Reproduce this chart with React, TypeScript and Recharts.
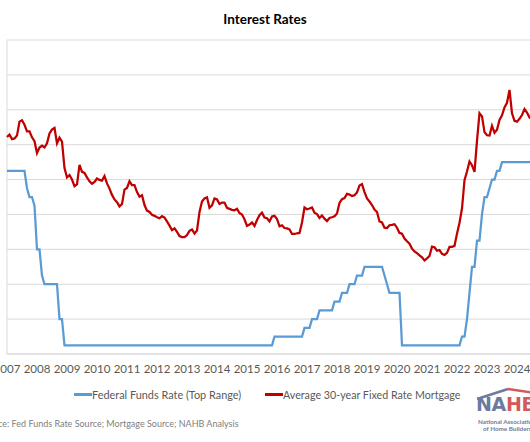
import React from "react";
import { LineChart, Line, XAxis, YAxis, CartesianGrid, ReferenceLine } from "recharts";

// monthly series, Jan 2007 onward
const START_YEAR = 2007;

const yearTicks = [2007, 2008, 2009, 2010, 2011, 2012, 2013, 2014, 2015, 2016, 2017, 2018, 2019, 2020, 2021, 2022, 2023, 2024, 2025];
const rateTicks = [0, 1, 2, 3, 4, 5, 6, 7, 8, 9];

const fedFundsRate = [
  5.25, 5.25, 5.25, 5.25, 5.25, 5.25, 5.25, 5.25, 4.75, 4.5, 4.5, 4.25, // 2007
  3.0, 3.0, 2.25, 2.0, 2.0, 2.0, 2.0, 2.0, 2.0, 1.0, 1.0, 0.25, // 2008
  0.25, 0.25, 0.25, 0.25, 0.25, 0.25, 0.25, 0.25, 0.25, 0.25, 0.25, 0.25, // 2009
  0.25, 0.25, 0.25, 0.25, 0.25, 0.25, 0.25, 0.25, 0.25, 0.25, 0.25, 0.25, // 2010
  0.25, 0.25, 0.25, 0.25, 0.25, 0.25, 0.25, 0.25, 0.25, 0.25, 0.25, 0.25, // 2011
  0.25, 0.25, 0.25, 0.25, 0.25, 0.25, 0.25, 0.25, 0.25, 0.25, 0.25, 0.25, // 2012
  0.25, 0.25, 0.25, 0.25, 0.25, 0.25, 0.25, 0.25, 0.25, 0.25, 0.25, 0.25, // 2013
  0.25, 0.25, 0.25, 0.25, 0.25, 0.25, 0.25, 0.25, 0.25, 0.25, 0.25, 0.25, // 2014
  0.25, 0.25, 0.25, 0.25, 0.25, 0.25, 0.25, 0.25, 0.25, 0.25, 0.25, 0.5, // 2015
  0.5, 0.5, 0.5, 0.5, 0.5, 0.5, 0.5, 0.5, 0.5, 0.5, 0.5, 0.75, // 2016
  0.75, 0.75, 1.0, 1.0, 1.0, 1.25, 1.25, 1.25, 1.25, 1.25, 1.25, 1.5, // 2017
  1.5, 1.5, 1.75, 1.75, 1.75, 2.0, 2.0, 2.0, 2.25, 2.25, 2.25, 2.5, // 2018
  2.5, 2.5, 2.5, 2.5, 2.5, 2.5, 2.5, 2.25, 2.0, 1.75, 1.75, 1.75, // 2019
  1.75, 1.75, 0.25, 0.25, 0.25, 0.25, 0.25, 0.25, 0.25, 0.25, 0.25, 0.25, // 2020
  0.25, 0.25, 0.25, 0.25, 0.25, 0.25, 0.25, 0.25, 0.25, 0.25, 0.25, 0.25, // 2021
  0.25, 0.25, 0.5, 0.5, 1.0, 1.75, 2.5, 2.5, 3.25, 3.25, 4.0, 4.5, // 2022
  4.5, 4.75, 5.0, 5.0, 5.25, 5.25, 5.5, 5.5, 5.5, 5.5, 5.5, 5.5, // 2023
  5.5, 5.5, 5.5, 5.5, 5.5, 5.5, 5.5, // 2024
];

const mortgageRate = [
  6.22, 6.29, 6.16, 6.18, 6.26, 6.66, 6.70, 6.57, 6.38, 6.38, 6.21, 6.10, // 2007
  5.76, 5.92, 5.97, 5.92, 6.04, 6.32, 6.43, 6.48, 6.04, 6.20, 6.09, 5.33, // 2008
  5.06, 5.13, 5.00, 4.81, 4.86, 5.42, 5.22, 5.19, 5.06, 4.95, 4.88, 4.93, // 2009
  5.03, 4.99, 4.97, 5.10, 4.89, 4.74, 4.56, 4.43, 4.35, 4.23, 4.30, 4.71, // 2010
  4.76, 4.95, 4.84, 4.84, 4.64, 4.51, 4.55, 4.27, 4.11, 4.07, 3.99, 3.96, // 2011
  3.92, 3.89, 3.95, 3.91, 3.80, 3.68, 3.55, 3.60, 3.50, 3.38, 3.35, 3.35, // 2012
  3.41, 3.53, 3.57, 3.45, 3.54, 4.07, 4.37, 4.46, 4.49, 4.19, 4.26, 4.46, // 2013
  4.43, 4.30, 4.34, 4.34, 4.19, 4.16, 4.13, 4.12, 4.16, 4.04, 4.00, 3.86, // 2014
  3.67, 3.71, 3.77, 3.67, 3.84, 3.98, 4.05, 3.91, 3.89, 3.80, 3.94, 3.96, // 2015
  3.87, 3.66, 3.69, 3.61, 3.60, 3.57, 3.44, 3.44, 3.46, 3.47, 3.77, 4.20, // 2016
  4.15, 4.17, 4.20, 4.05, 4.01, 3.90, 3.97, 3.88, 3.81, 3.90, 3.92, 3.95, // 2017
  4.03, 4.33, 4.44, 4.47, 4.59, 4.57, 4.53, 4.55, 4.63, 4.83, 4.87, 4.64, // 2018
  4.46, 4.37, 4.27, 4.14, 4.07, 3.80, 3.77, 3.62, 3.61, 3.69, 3.70, 3.72, // 2019
  3.62, 3.47, 3.45, 3.31, 3.23, 3.16, 3.02, 2.94, 2.89, 2.83, 2.77, 2.68, // 2020
  2.74, 2.81, 3.08, 3.06, 2.96, 2.98, 2.87, 2.84, 2.90, 3.07, 3.07, 3.10, // 2021
  3.45, 3.76, 4.17, 4.98, 5.23, 5.52, 5.41, 5.22, 6.11, 6.90, 6.81, 6.36, // 2022
  6.27, 6.26, 6.54, 6.34, 6.43, 6.71, 6.84, 7.07, 7.20, 7.57, 6.90, 6.68, // 2023
  6.66, 6.74, 6.85, 7.02, 6.92, 6.78, 6.72, // 2024
];

const data = mortgageRate.map((m, i) => ({
  t: START_YEAR + i / 12,
  fed: fedFundsRate[i],
  mortgage: m,
}));

const FONT = "Lato, 'Open Sans', sans-serif";

const YearTick = ({ x, y, payload }: any) => (
  <text x={x} y={y + 19} textAnchor="middle" fill="#595959" fontSize={11.5} fontFamily={FONT}>
    {payload.value}
  </text>
);

const NahbLogo = () => (
  <svg width={80} height={56} style={{ position: "absolute", left: 474, top: 386 }}>
    <polyline points="3,13 34,3" fill="none" stroke="#6b7aa1" strokeWidth={2.5} />
    <polyline points="34,3 80,10" fill="none" stroke="#d35a5a" strokeWidth={2.5} />
    <text x={2} y={25} fontSize={19} fontWeight={900} fontFamily="'DejaVu Sans', sans-serif" letterSpacing={-0.3}>
      <tspan fill="#6b7aa1">NA</tspan>
      <tspan fill="#d35a5a">HB</tspan>
    </text>
    <text x={4} y={38} fontSize={6.3} fontWeight={700} fill="#6b7aa1" fontFamily={FONT}>National Association</text>
    <text x={9} y={45} fontSize={6.3} fontWeight={700} fill="#6b7aa1" fontFamily={FONT}>of Home Builders</text>
  </svg>
);

export default function App() {
  return (
    <div
      style={{
        position: "fixed",
        left: 0,
        top: 0,
        width: 530,
        height: 442,
        overflow: "hidden",
        background: "#fff",
        fontFamily: FONT,
      }}
    >
      <div
        style={{
          position: "absolute",
          left: 0,
          top: 11,
          width: 530,
          textAlign: "center",
          fontSize: 13.5,
          fontWeight: 700,
          color: "#000",
        }}
      >
        Interest Rates
      </div>

      <div style={{ position: "absolute", left: 0, top: 0 }}>
        <LineChart width={560} height={442} data={data} margin={{ top: 40, right: 13, bottom: 58, left: 7 }}>
          <CartesianGrid horizontal vertical={false} stroke="#d9d9d9" strokeWidth={1} />
          <XAxis
            dataKey="t"
            type="number"
            domain={[2007, 2025]}
            ticks={yearTicks}
            interval={0}
            height={30}
            tickLine={false}
            tickSize={0}
            tickMargin={0}
            axisLine={{ stroke: "#d9d9d9" }}
            tick={<YearTick />}
          />
          <YAxis hide domain={[0, 9]} ticks={rateTicks} />
          <ReferenceLine x={2007} stroke="#d9d9d9" />
          <Line
            type="linear"
            dataKey="fed"
            stroke="#5b9bd5"
            strokeWidth={2.25}
            dot={false}
            isAnimationActive={false}
          />
          <Line
            type="linear"
            dataKey="mortgage"
            stroke="#c00000"
            strokeWidth={2.25}
            dot={false}
            isAnimationActive={false}
          />
        </LineChart>
      </div>

      {/* legend */}
      <div style={{ position: "absolute", left: 74, top: 388, display: "flex", alignItems: "center", fontSize: 10.9, color: "#595959", whiteSpace: "nowrap" }}>
        <span style={{ width: 18, height: 2.25, background: "#5b9bd5", display: "inline-block" }} />
        <span>Federal Funds Rate (Top Range)</span>
      </div>
      <div style={{ position: "absolute", left: 265, top: 388, display: "flex", alignItems: "center", fontSize: 10.7, color: "#595959", whiteSpace: "nowrap" }}>
        <span style={{ width: 18, height: 2.25, background: "#c00000", display: "inline-block" }} />
        <span>Average 30-year Fixed Rate Mortgage</span>
      </div>

      <div style={{ position: "absolute", left: -20, top: 418, fontSize: 9, color: "#808080", whiteSpace: "nowrap" }}>
        Source: Fed Funds Rate Source; Mortgage Source; NAHB Analysis
      </div>

      <NahbLogo />
    </div>
  );
}
